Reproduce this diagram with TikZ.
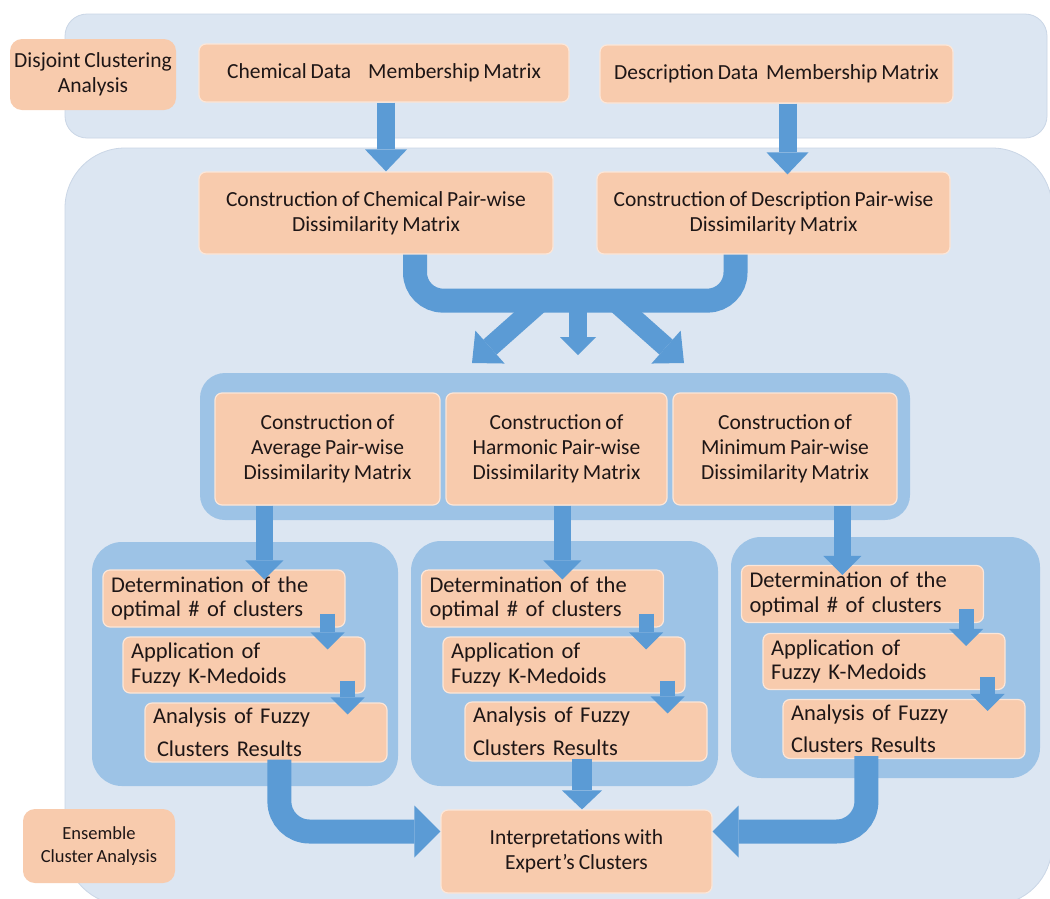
\documentclass[tikz,border=0pt]{standalone}
\usepackage{fontspec}
\setmainfont[WordSpace=0.8]{Carlito}
\usetikzlibrary{arrows.meta,calc}
\definecolor{panelblue}{RGB}{220,230,242}
\definecolor{panelline}{RGB}{202,214,230}
\definecolor{groupblue}{RGB}{157,195,230}
\definecolor{boxorange}{RGB}{248,203,173}
\definecolor{boxline}{RGB}{252,230,216}
\definecolor{arrowblue}{RGB}{91,155,213}
\definecolor{ink}{RGB}{30,22,22}
\newcommand{\mainsz}{\fontsize{21.5}{25}\selectfont}
\newcommand{\stepsz}{\fontsize{22.5}{24.5}\selectfont}
\newcommand{\smallsz}{\fontsize{18.5}{23}\selectfont}
\tikzset{
  panel/.style={fill=panelblue, draw=panelline, line width=0.8pt},
  group/.style={fill=groupblue, rounded corners=#1},
  box/.style={fill=boxorange, draw=boxline, line width=1.2pt, rounded corners=7pt,
    text=ink, font=\mainsz, align=center, inner sep=0pt},
  tag/.style={fill=boxorange, rounded corners=12pt, text=ink, align=center, inner sep=0pt},
  stepbox/.style={box, font=\stepsz, align=left, text width=226pt, inner xsep=8pt,
    inner ysep=0pt, minimum height=#1},
  fat/.style n args={3}{draw=arrowblue, line width=#1,
    -{Triangle[width=#2,length=#3,line width=0pt]}},
  band/.style={draw=arrowblue, line width=24pt, rounded corners=28pt}
}
\begin{document}
\begin{tikzpicture}[x=1pt,y=-1pt]
\useasboundingbox (0,0) rectangle (1050,898);
\fill[white] (0,0) rectangle (1050,898);

% background panels
\begin{scope}
  \clip (0,0) rectangle (1050,898);
  \draw[panel, rounded corners=22pt] (65,14) rectangle (1047,138);
  \draw[panel, rounded corners=60pt] (65,148) rectangle (1052,905);
\end{scope}

% stage tags
\node[tag, font=\mainsz, minimum width=166pt, minimum height=71pt] (disj) at (93,74.5)
  {Disjoint Clustering\\Analysis};
\node[tag, font=\smallsz, minimum width=152pt, minimum height=74pt] (ens) at (99,846)
  {Ensemble\\Cluster Analysis};

% membership matrices
\node[box, minimum width=370pt, minimum height=58pt] (chemMM) at (384,73)
  {Chemical Data\hspace{17pt}Membership Matrix};
\node[box, minimum width=353pt, minimum height=58pt] (descMM) at (776.5,74)
  {Description Data\ \ Membership Matrix};

% pair-wise dissimilarity matrices
\node[box, minimum width=354pt, minimum height=82pt] (chemCon) at (376,213)
  {Construction of Chemical Pair-wise\\Dissimilarity Matrix};
\node[box, minimum width=353pt, minimum height=82pt] (descCon) at (773.5,213)
  {Construction of Description Pair-wise\\Dissimilarity Matrix};

% combined matrices
\fill[group=25pt] (200,373) rectangle (910,520);
\node[box, minimum width=225pt, minimum height=112pt] (avg) at (327.5,449)
  {Construction of\\Average Pair-wise\\Dissimilarity Matrix};
\node[box, minimum width=221pt, minimum height=112pt] (harm) at (556.5,449)
  {Construction of\\Harmonic Pair-wise\\Dissimilarity Matrix};
\node[box, minimum width=224pt, minimum height=112pt] (mini) at (785,449)
  {Construction of\\Minimum Pair-wise\\Dissimilarity Matrix};

% fuzzy clustering columns
\fill[group=30pt] (92,542) rectangle (398,786);
\fill[group=30pt] (411,541) rectangle (718,786);
\fill[group=30pt] (731,537) rectangle (1040,778);

\node[stepbox=57pt] (detL) at (224,598.5) {Determination of the\\optimal \# of clusters};
\node[stepbox=56pt] (appL) at (244,665) {Application of\\Fuzzy K-Medoids};
\node[stepbox=59pt] (anaL) at (266,732.5) {Analysis of Fuzzy\\[8pt]\hspace{4pt}Clusters Results};

\node[stepbox=57pt] (detM) at (542.5,598.5) {Determination of the\\optimal \# of clusters};
\node[stepbox=56pt] (appM) at (564,665) {Application of\\Fuzzy K-Medoids};
\node[stepbox=59pt] (anaM) at (586,731.5) {Analysis of Fuzzy\\[8pt]Clusters Results};

\node[stepbox=57pt] (detR) at (862.5,594) {Determination of the\\optimal \# of clusters};
\node[stepbox=56pt] (appR) at (884,661.5) {Application of\\Fuzzy K-Medoids};
\node[stepbox=59pt] (anaR) at (904,729) {Analysis of Fuzzy\\[8pt]Clusters Results};

% interpretation
\node[box, minimum width=271pt, minimum height=83pt] (interp) at (576.5,851.5)
  {Interpretations with\\Expert’s Clusters};

% membership -> dissimilarity
\coordinate (c1) at ($(chemMM.south)+(2,0)$);
\coordinate (d1) at ($(descMM.south)+(11,0)$);
\draw[fat={18pt}{42pt}{22pt}] (c1) -- (c1 |- chemCon.north);
\draw[fat={18pt}{42pt}{22pt}] (d1) -- ($(d1 |- descCon.north)+(0,3)$);

% merging band and fan-out
\coordinate (uL) at ($(chemCon.south)+(39,0)$);
\coordinate (uR) at ($(descCon.south)+(-38,0)$);
\draw[band] (uL) -- ++(0,46) -| (uR);
\coordinate (fL) at (543,300);
\coordinate (fM) at (578,300);
\coordinate (fR) at (613,300);
\draw[fat={20pt}{44pt}{24pt}] (fL) -- (472,363);
\draw[fat={18pt}{36pt}{18pt}] (fM) -- (578,355);
\draw[fat={20pt}{44pt}{24pt}] (fR) -- (684,363);

% combined matrices -> clustering columns
\coordinate (gL) at ($(avg.south west)+(50,0)$);
\coordinate (gM) at ($(harm.south west)+(117,0)$);
\coordinate (gR) at ($(mini.south west)+(170,0)$);
\draw[fat={17pt}{38pt}{19pt}] (gL) -- ($(gL |- detL.north)+(0,10)$);
\draw[fat={17pt}{38pt}{19pt}] (gM) -- ($(gM |- detM.north)+(0,10)$);
\draw[fat={17pt}{38pt}{19pt}] (gR) -- ($(gR |- detR.north)+(0,10)$);

% steps inside each column
\foreach \c in {L,M,R}{
  \draw[fat={15pt}{34pt}{17pt}] ($(det\c.south east)+(-18,-14)$)
    -- ($(det\c.south east |- app\c.north)+(-18,13)$);
  \draw[fat={15pt}{34pt}{17pt}] ($(app\c.south east)+(-18,-13)$)
    -- ($(app\c.south east |- ana\c.north)+(-18,12)$);
}

% columns -> interpretation
\coordinate (bL) at ($(anaL.south west)+(135,-3)$);
\coordinate (bM) at ($(anaM.south)+(-4,-3)$);
\coordinate (bR) at ($(anaR.south west)+(84,-3)$);
\draw[fat={24pt}{52pt}{26pt}, rounded corners=30pt] (bL) |- ($(interp.west)+(0,-20)$);
\draw[fat={20pt}{40pt}{19pt}] (bM) -- (bM |- interp.north);
\draw[fat={24pt}{52pt}{26pt}, rounded corners=30pt] (bR) |- ($(interp.east)+(0,-20)$);
\end{tikzpicture}
\end{document}
